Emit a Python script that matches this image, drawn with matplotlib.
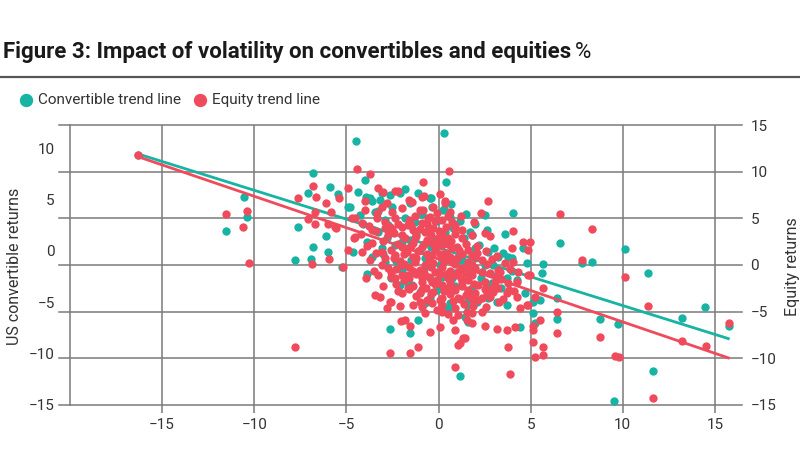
import matplotlib
matplotlib.use("Agg")
import matplotlib.pyplot as plt
from matplotlib import font_manager
from matplotlib.lines import Line2D
from matplotlib.transforms import blended_transform_factory

# ---------------- data ----------------
conv_x = [-10.55,-10.39,-11.53,-7.62,-6.81,-7.08,-5.89,-5.45,-6.10,-6.81,
          -7.79,-6.92,-6.00,-5.24,-4.48,-3.99,-4.37,-3.93,-4.91,-3.88,
          -2.63,-4.64,0.30,0.41,-0.41,2.52,4.04,6.59,7.79,8.33,
          10.12,11.37,8.76,9.74,13.21,14.46,15.76,11.64,9.52,1.17,
          6.43,5.13,4.42,5.67,4.80,4.58,3.77,3.23,4.26,5.13,
          5.51,6.43,5.62,4.69,3.17,1.55,-1.55,-1.11,0.52,1.44,-16.30,
          -3.72,-3.07,-2.63,-1.82,-1.55,-0.46,-0.35,-4.80,-4.26,-3.45,-2.90,
          0.30,2.63,1.71,1.17,0.62,
          2.69,3.99,3.72,3.17,3.72,5.24,1.55,1.60,2.36,2.79,1.82,0.73,1.44,1.98,2.52,
          -0.46,-1.71,-2.09,-0.73,-1.44,-3.07,-3.61,
          0.35,1.82,1.98,2.96,-1.98,-1.65,-0.46,0.62,2.69,-3.28,-2.74,-1.28,-2.36,0.90,1.28,-0.73,-2.90,0.24,-3.17,
          -0.19,-1.00,0.62,0.08,-1.55,
          -3.3,-2.5,-1.8,-0.9,-0.1,0.8,1.4,2.2,3.0,3.5,
          -3.5,-2.8,-2.0,-1.2,-0.4,0.4,1.0,1.7,2.3,2.9,
          3.4,4.0,-3.9,-3.0,-2.3,-1.5,-0.8,0.2,0.9,1.6,
          2.1,-1.0,-0.1,-2.6,-4.1,-3.6,-2.1,-1.1,0.7,1.5,
          2.0,3.6]
conv_y = [5.23,3.29,1.93,2.32,7.57,5.62,6.21,5.53,1.44,0.37,
          -0.89,-0.80,-0.12,-1.58,10.68,6.89,5.72,5.23,4.26,-2.26,
          -7.61,-0.12,11.46,6.69,5.14,3.48,3.68,0.76,-1.17,-1.08,
          0.18,-2.16,-6.63,-7.12,-6.54,-5.47,-7.32,-11.69,-14.61,-12.16,
          -6.63,-6.05,-7.40,-1.28,-1.19,0.27,-0.60,-0.60,-2.84,-4.98,
          -4.79,-4.59,-2.16,-4.11,-4.98,-4.98,-8.00,-6.73,-5.56,-6.44,9.32,
          5.14,5.62,5.43,6.01,4.65,5.14,4.26,4.26,3.48,3.77,3.00,
          4.07,2.02,1.83,2.90,3.29,
          -0.12,-0.70,-2.65,-2.35,-5.23,-7.02,-5.23,-6.89,-2.06,-3.52,-3.62,-2.65,-1.67,-0.70,-1.38,
          -2.65,-2.65,-3.33,-5.08,-3.33,0.27,-0.60,
          1.83,1.54,0.27,-1.38,-1.87,-3.13,-4.59,-5.08,-4.59,1.83,2.51,2.80,0.56,-2.16,-0.89,-0.70,-1.09,3.97,4.94,
          1.05,0.08,0.56,-1.38,1.05,
          3.9,4.3,3.2,3.6,2.9,2.2,1.2,0.6,0.3,-0.2,
          2.0,1.2,0.9,1.6,0.4,-0.3,-1.0,-1.9,-2.6,-3.1,
          -3.6,-2.0,0.9,-0.3,-1.0,-0.9,-1.8,-2.5,-3.4,-4.1,
          -5.0,-4.0,-3.8,-2.6,2.6,4.8,5.6,5.6,4.6,3.6,
          2.6,1.6]

eq_x = [-16.30,-11.53,-10.61,-10.39,-10.28,-7.62,-7.08,-6.81,-6.65,-6.70,
        -6.70,-6.10,-5.83,-6.00,-5.94,-6.86,-5.40,-5.56,-5.18,-4.91,
        -4.42,-3.72,-3.28,-3.01,-2.36,-7.79,-2.63,-3.45,-2.79,-2.58,
        -3.93,-4.69,-4.58,-4.15,-4.91,0.57,-0.84,-0.79,0.35,2.69,
        6.59,8.33,4.04,7.79,10.12,11.37,8.76,9.58,9.79,13.21,
        14.51,15.76,11.64,0.90,3.88,3.77,-1.55,-1.11,-0.46,0.08,
        1.17,1.44,1.55,1.82,2.52,3.17,3.72,4.15,5.13,5.13,
        5.13,5.67,5.67,5.24,5.51,6.43,6.43,5.67,4.96,4.86,
        4.58,4.96,4.04,3.77,3.72,4.26,4.80,2.79,2.52,2.09,
        2.63,2.52,2.36,2.63,2.79,2.90,3.17,3.34,1.87,1.55,
        1.82,1.17,0.52,0.19,-0.35,-0.73,-1.00,-1.38,-1.82,-2.03,
        -1.55,-0.08,-3.07,-3.34,-0.90,0.35,-1.00,-0.57,-0.08,0.73,
        0.90,1.28,-2.74,-1.98,-1.28,-3.07,-2.36,-1.65,-0.90,-0.35,
        0.19,0.73,-0.35,0.19,0.73,1.28,-0.73,-1.28,-1.98,-2.74,
        -0.03,0.52,1.28,1.82,2.36,2.14,1.60,0.90,0.19,-0.35,
        -0.90,-1.65,-2.36,-3.07,-1.65,0.19,1.06,2.14,2.96,3.07,
        3.23,-2.63,-1.00,-1.65,-2.36,-2.90,-0.30,0.19,-0.73,0.52,
        -0.03,1.60,1.98,2.36,1.82,-2.20,-2.52,-3.99,-3.34,-1.98,
        -1.44,-0.84,-0.46,-4.53,-4.15,-0.90,-1.38,-1.98,-2.63,-3.61,
        -4.53,-5.62,0.90,1.33,1.06,2.36,1.06,0.79,3.99,4.86,
        4.26,3.23,5.24,4.86,
        -2.9,-2.2,-1.6,-0.6,0.2,0.9,-3.8,
        -3.4,-2.4,-1.0,0.4,1.3,1.8,-4.2,
        -3.6,-3.0,-2.2,-1.4,-0.6,0.0,0.7,1.5,2.1,-3.9,
        -3.4,-2.6,-1.9,-1.1,-0.2,0.4,1.1,1.8,2.6,3.2,
        -3.7,-2.9,-2.1,-1.4,-0.5,0.3,1.0,1.6,2.9,3.6,
        -3.5,-2.3,-1.6,-1.0,-0.4,0.6,1.5,2.0,2.8,3.9,
        -3.3,-2.6,-1.9,-1.2,-0.5,0.1,0.9,1.6,3.4,4.3,
        -3.0,-2.3,-1.4,-0.7,-0.2,0.5,1.3,1.9,2.5,3.8,
        -3.2,-2.0,-1.2,-0.4,0.6,1.5,2.0,3.5,4.1,
        -2.1,-0.9,0.2,0.9,1.4,2.6,3.3,4.4,
        -1.3,-0.3,0.6,-2.8,-1.6,0.1,1.2,1.9,2.3,-4.0,
        -1.8,-1.2,-0.4,0.3,0.9,
        -2.0,-1.5,-0.8,-0.1,0.5,1.0,
        -2.4,-1.7,-0.6,0.1,0.6,1.3,
        -1.9,-1.2,-0.3,0.2,0.9,1.5,
        -2.6,-1.4,-0.8,-0.2,0.4,1.1,
        -2.0,-1.6,-0.9,-0.1,0.6,1.2,
        -2.2,-1.6,-0.9,-0.3,0.3,0.9,1.6,
        -0.6,0.1,0.8,1.8,
        -0.5,0.0,-1.5,-2.5,-0.2,0.5]
eq_y = [11.79,5.46,4.07,5.79,0.21,7.18,4.93,8.46,7.29,5.68,
        4.39,6.64,5.68,4.39,0.64,0.11,7.18,3.96,-0.21,8.25,
        10.29,9.75,8.25,7.82,7.93,-8.79,-9.43,-3.21,-4.61,-3.96,
        -1.39,5.04,2.89,1.39,1.61,10.07,8.89,7.39,6.86,6.86,
        5.46,3.86,3.64,0.54,-1.29,-4.39,-7.71,-9.75,-9.86,-8.14,
        -8.68,-6.21,-14.25,-10.93,-11.68,-8.79,-9.43,-8.79,-7.18,-6.64,
        -8.36,-7.82,-5.89,-6.21,-6.54,-6.86,-6.96,-6.64,-6.54,-6.96,
        -8.25,-8.79,-9.64,-9.86,-5.89,-5.04,-7.29,-2.46,-1.07,1.61,
        2.46,2.46,0.32,-1.93,-3.00,-3.43,-4.29,3.11,3.43,1.29,
        0.11,-1.82,-3.54,-3.00,-3.43,-2.46,-1.29,-0.75,-4.39,-5.04,
        -5.14,-3.64,-5.25,-5.04,-4.07,-5.14,-3.00,-4.29,-5.89,-6.00,
        -6.54,-4.82,6.21,5.04,7.29,6.64,5.89,5.04,5.57,4.61,
        3.96,2.89,3.21,3.21,2.89,1.39,1.07,1.82,1.93,2.36,
        2.14,1.82,1.07,0.75,0.32,-0.32,0.00,0.32,0.00,-0.32,
        -0.75,-1.39,-1.82,-1.07,-0.75,-2.14,-2.89,-2.46,-2.14,-1.82,
        -1.39,-1.07,-1.39,0.00,-2.46,-3.54,-3.54,-3.75,-2.89,-1.82,
        -0.54,-3.96,-3.96,4.29,5.04,3.96,3.96,3.54,3.54,2.89,
        2.89,1.61,0.86,0.54,0.00,7.93,5.68,5.89,5.57,6.11,
        6.75,5.89,5.14,5.04,4.50,4.50,3.75,4.07,4.07,3.75,
        3.00,4.07,-6.96,-7.82,-8.57,-5.04,-5.36,-5.89,1.82,-1.07,
        -1.82,-2.46,-3.43,-4.29,
        4.6,4.4,4.8,4.4,4.8,4.3,4.2,
        3.6,3.4,3.9,4.1,3.7,3.2,3.3,
        2.4,2.6,2.3,2.4,2.7,2.5,2.6,2.3,2.0,2.0,
        1.3,1.6,1.2,1.5,1.6,1.3,1.6,1.1,1.5,1.0,
        0.5,0.8,0.4,0.9,0.6,0.4,0.8,0.3,0.6,0.2,
        -0.6,-0.4,-0.2,-0.5,-0.2,-0.6,-0.4,-0.3,-0.9,-0.4,
        -1.1,-1.3,-1.6,-1.0,-1.3,-1.0,-1.1,-1.6,-1.5,-0.8,
        -2.3,-2.0,-2.2,-2.5,-2.0,-2.5,-2.3,-2.0,-2.6,-2.7,
        -3.4,-3.0,-3.3,-3.1,-3.1,-3.2,-3.0,-3.6,-2.8,
        -4.4,-4.5,-4.3,-4.6,-4.2,-4.5,-4.0,-4.6,
        5.3,6.2,5.7,6.6,7.0,7.6,5.2,4.6,5.6,6.9,
        2.9,3.1,3.2,2.9,3.3,
        1.9,2.0,2.3,2.0,2.2,1.9,
        0.7,1.4,1.2,1.2,0.9,1.2,
        0.1,0.8,0.2,-0.2,0.1,-0.9,
        -0.8,-0.6,-0.9,-0.7,-1.0,-0.6,
        -1.1,-1.4,-1.8,-1.6,-1.8,-1.4,
        -2.8,-2.6,-2.6,-2.9,-2.8,-2.7,-2.7,
        -3.7,-3.8,-3.9,-3.6,
        4.0,3.6,4.3,3.9,4.7,5.2]

trend_x = [-16.3, 15.8]
conv_trend = [9.42, -8.58]
eq_trend = [11.6, -10.0]

x_ticks = [-15, -10, -5, 0, 5, 10, 15]
left_ticks = [-15, -10, -5, 0, 5, 10]
right_ticks = [-15, -10, -5, 0, 5, 10, 15]

title = "Figure 3: Impact of volatility on convertibles and equities"
legend_labels = ["Convertible trend line", "Equity trend line"]

# ---------------- style ----------------
TEAL = "#17B3A3"
RED = "#F04B5C"
GRID = "#7a7a7a"
TXT = "#333333"

names = {f.name for f in font_manager.fontManager.ttflist}
FONT = "Liberation Sans Narrow" if "Liberation Sans Narrow" in names else "Roboto"
plt.rcParams["font.family"] = [FONT, "DejaVu Sans"]

W, H = 800, 472
fig = plt.figure(figsize=(W / 100, H / 100), dpi=100)
ax = fig.add_axes([70 / W, (H - 405) / H, 672 / W, 280 / H])
ax2 = ax.twinx()

ax.set_xlim(-20, 16.47)
ax.set_ylim(-15, 12.24)
ax2.set_ylim(-15, 15)

# gridlines
ax.set_xticks(x_ticks)
ax.grid(axis="x", color=GRID, lw=1.1, zorder=0)
ax.set_axisbelow(True)
tr = blended_transform_factory(ax.transAxes, ax2.transData)
for v in right_ticks:
    ax.plot([-0.017, 1], [v, v], transform=tr, color=GRID, lw=1.1,
            clip_on=False, zorder=0.5)

# data
sc_c = ax.scatter(conv_x, conv_y, s=36, color=TEAL, linewidths=0, zorder=2)
ax.plot(trend_x, conv_trend, color=TEAL, lw=2.0, zorder=3, solid_capstyle="butt")
sc_e = ax2.scatter(eq_x, eq_y, s=36, color=RED, linewidths=0, zorder=2)
ax2.plot(trend_x, eq_trend, color=RED, lw=2.0, zorder=3, solid_capstyle="butt")

# spines / ticks
for a in (ax, ax2):
    for s in a.spines.values():
        s.set_visible(False)
ax.spines["left"].set_visible(True)
ax.spines["left"].set_color(GRID)
ax.spines["left"].set_linewidth(1.1)

ax.set_yticks(left_ticks)
ax2.set_yticks(right_ticks)
ax.tick_params(axis="y", length=0, pad=11, labelsize=11, labelcolor=TXT)
ax.tick_params(axis="x", length=6, width=1.1, color=GRID, direction="out",
               pad=3.5, labelsize=11, labelcolor=TXT)
ax2.tick_params(axis="y", length=0, pad=6, labelsize=11, labelcolor=TXT)

ax.set_ylabel("US convertible returns", fontsize=11.5, color=TXT, va="center")
ax.yaxis.set_label_coords((15 - 70) / 672, 0.495)
ax2.set_ylabel("Equity returns", fontsize=11.5, color=TXT, va="center", rotation=90)
ax2.yaxis.set_label_coords((792 - 70) / 672, 0.495)

# title
t = fig.text(3 / W, 1 - 58 / H, title, fontsize=16, fontweight="bold",
             color="#1a1a1a", va="baseline", ha="left")
fig.canvas.draw()
bb = t.get_window_extent()
fig.text(bb.x1 / W + 4 / W, 1 - 58 / H, "%", fontsize=16, color="#1a1a1a",
         va="baseline", ha="left")

fig.add_artist(Line2D([0, 1], [1 - 77 / H, 1 - 77 / H], transform=fig.transFigure,
                      color="#555555", lw=1.6))

# legend
fig.legend([sc_c, sc_e], legend_labels, loc="center left",
           bbox_to_anchor=(20 / W, 1 - 100 / H), ncol=2, frameon=False,
           markerscale=1.6, handlelength=0.8, handletextpad=0.35,
           columnspacing=0.9, borderpad=0, borderaxespad=0,
           fontsize=11, labelcolor=TXT)

fig.savefig("out.png", dpi=100)
